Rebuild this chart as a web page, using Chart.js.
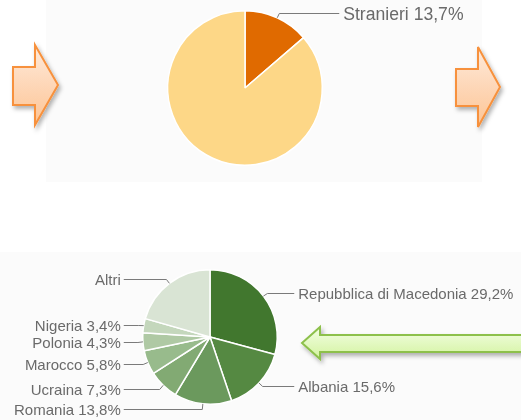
<!DOCTYPE html>
<html>
<head>
<meta charset="utf-8">
<script src="https://cdn.jsdelivr.net/npm/chart.js@4/dist/chart.umd.min.js"></script>
<style>
  html, body { margin: 0; padding: 0; background: #fff; }
  #wrap { position: relative; width: 521px; height: 420px; overflow: hidden; }
  .panel { position: absolute; }
  canvas, svg { position: absolute; }
</style>
</head>
<body>
<div id="wrap">
  <div class="panel" style="left:46px;top:0;width:436px;height:182px;background:#fbfbfb"></div>
  <div class="panel" style="left:0;top:252px;width:521px;height:168px;background:#fbfbfb"></div>
  <svg width="521" height="420" style="left:0;top:0">
    <defs>
      <linearGradient id="og" x1="0" y1="0" x2="0" y2="1">
        <stop offset="0" stop-color="#feeadb"/>
        <stop offset="1" stop-color="#fdc494"/>
      </linearGradient>
      <linearGradient id="gg" x1="0" y1="0" x2="0" y2="1">
        <stop offset="0" stop-color="#f3fee4"/>
        <stop offset="1" stop-color="#d3f39f"/>
      </linearGradient>
      <filter id="sh" x="-20%" y="-20%" width="150%" height="150%">
        <feDropShadow dx="2" dy="3" stdDeviation="2" flood-color="#000" flood-opacity="0.3"/>
      </filter>
    </defs>
    <polygon points="13,67 35,67 35,45 58,85 35,125 35,105 13,105" fill="url(#og)" stroke="#f7913c" stroke-width="2" filter="url(#sh)"/>
    <polygon points="456,69 478,69 478,47 500,87 478,127 478,106 456,106" fill="url(#og)" stroke="#f7913c" stroke-width="2" filter="url(#sh)"/>
    <polygon points="302,343 320,327 320,335 530,335 530,352 320,352 320,359" fill="url(#gg)" stroke="#8dc04c" stroke-width="2" filter="url(#sh)"/>
  </svg>
  <canvas id="topPie" width="521" height="182" style="left:0;top:0"></canvas>
  <canvas id="bottomPie" width="521" height="168" style="left:0;top:252px"></canvas>
</div>
<script>
// top pie: foreign residents vs. the rest
const topNames = ['Stranieri', 'Italiani'];
const topValues = [13.7, 86.3];
const topColors = ['#e06a00', '#fdd787'];
const topLabelled = [true, false];

// bottom pie: foreign residents by citizenship
const bottomNames = ['Repubblica di Macedonia', 'Albania', 'Romania', 'Ucraina', 'Marocco', 'Polonia', 'Nigeria', 'Altri'];
const bottomValues = [29.2, 15.6, 13.8, 7.3, 5.8, 4.3, 3.4, 20.6];
const bottomColors = ['#41772e', '#558942', '#6b995d', '#82aa73', '#98bb8c', '#afc9a4', '#c4d7bc', '#d9e4d4'];
const bottomShowPct = [true, true, true, true, true, true, true, false];

const fmt = v => v.toFixed(1).replace('.', ',') + '%';

// leader lines + labels drawn next to each slice
const sliceLabels = {
    id: 'sliceLabels',
    afterDatasetsDraw(chart, args, opts) {
        const ctx = chart.ctx;
        const arcs = chart.getDatasetMeta(0).data;
        const vals = chart.data.datasets[0].data;
        ctx.save();
        ctx.font = opts.size + 'px "Liberation Sans", Arial, sans-serif';
        ctx.fillStyle = '#6a6a6a';
        ctx.strokeStyle = '#7a7a7a';
        ctx.lineWidth = 1;
        ctx.textBaseline = 'middle';
        arcs.forEach((arc, i) => {
            if (!opts.show[i]) return;
            const p = arc.getProps(['x', 'y', 'startAngle', 'endAngle', 'outerRadius']);
            const mid = (p.startAngle + p.endAngle) / 2;
            const c = Math.cos(mid), s = Math.sin(mid);
            const r = p.outerRadius;
            const x0 = p.x + r * c, y0 = p.y + r * s;
            const x1 = p.x + (r + 5) * c, y1 = Math.round(p.y + (r + 5) * s) + 0.5;
            const right = c >= 0;
            const x2 = right ? p.x + r + 17 : p.x - r - 19;
            ctx.beginPath();
            ctx.moveTo(x0, y0);
            ctx.lineTo(x1, y1);
            ctx.lineTo(x2, y1);
            ctx.stroke();
            const txt = opts.pct[i] ? chart.data.labels[i] + ' ' + fmt(vals[i]) : chart.data.labels[i];
            ctx.textAlign = right ? 'left' : 'right';
            ctx.fillText(txt, right ? x2 + 4 : x2 - 3, y1 + 1.5);
        });
        ctx.restore();
    }
};

function makePie(id, names, values, colors, padding, show, pct, size) {
    return new Chart(document.getElementById(id).getContext('2d'), {
        type: 'pie',
        data: {
            labels: names,
            datasets: [{
                data: values,
                backgroundColor: colors,
                borderColor: '#ffffff',
                borderWidth: 1.5
            }]
        },
        options: {
            responsive: false,
            animation: false,
            layout: { padding: padding },
            plugins: {
                legend: { display: false },
                tooltip: { enabled: false },
                sliceLabels: { show: show, pct: pct, size: size }
            }
        },
        plugins: [sliceLabels]
    });
}

makePie('topPie', topNames, topValues, topColors,
    { top: 10, bottom: 16, left: 0, right: 31 }, topLabelled, [true, false], 17.6);
makePie('bottomPie', bottomNames, bottomValues, bottomColors,
    { top: 17, bottom: 15, left: 0, right: 101 }, bottomShowPct.map(() => true), bottomShowPct, 15);
</script>
</body>
</html>
